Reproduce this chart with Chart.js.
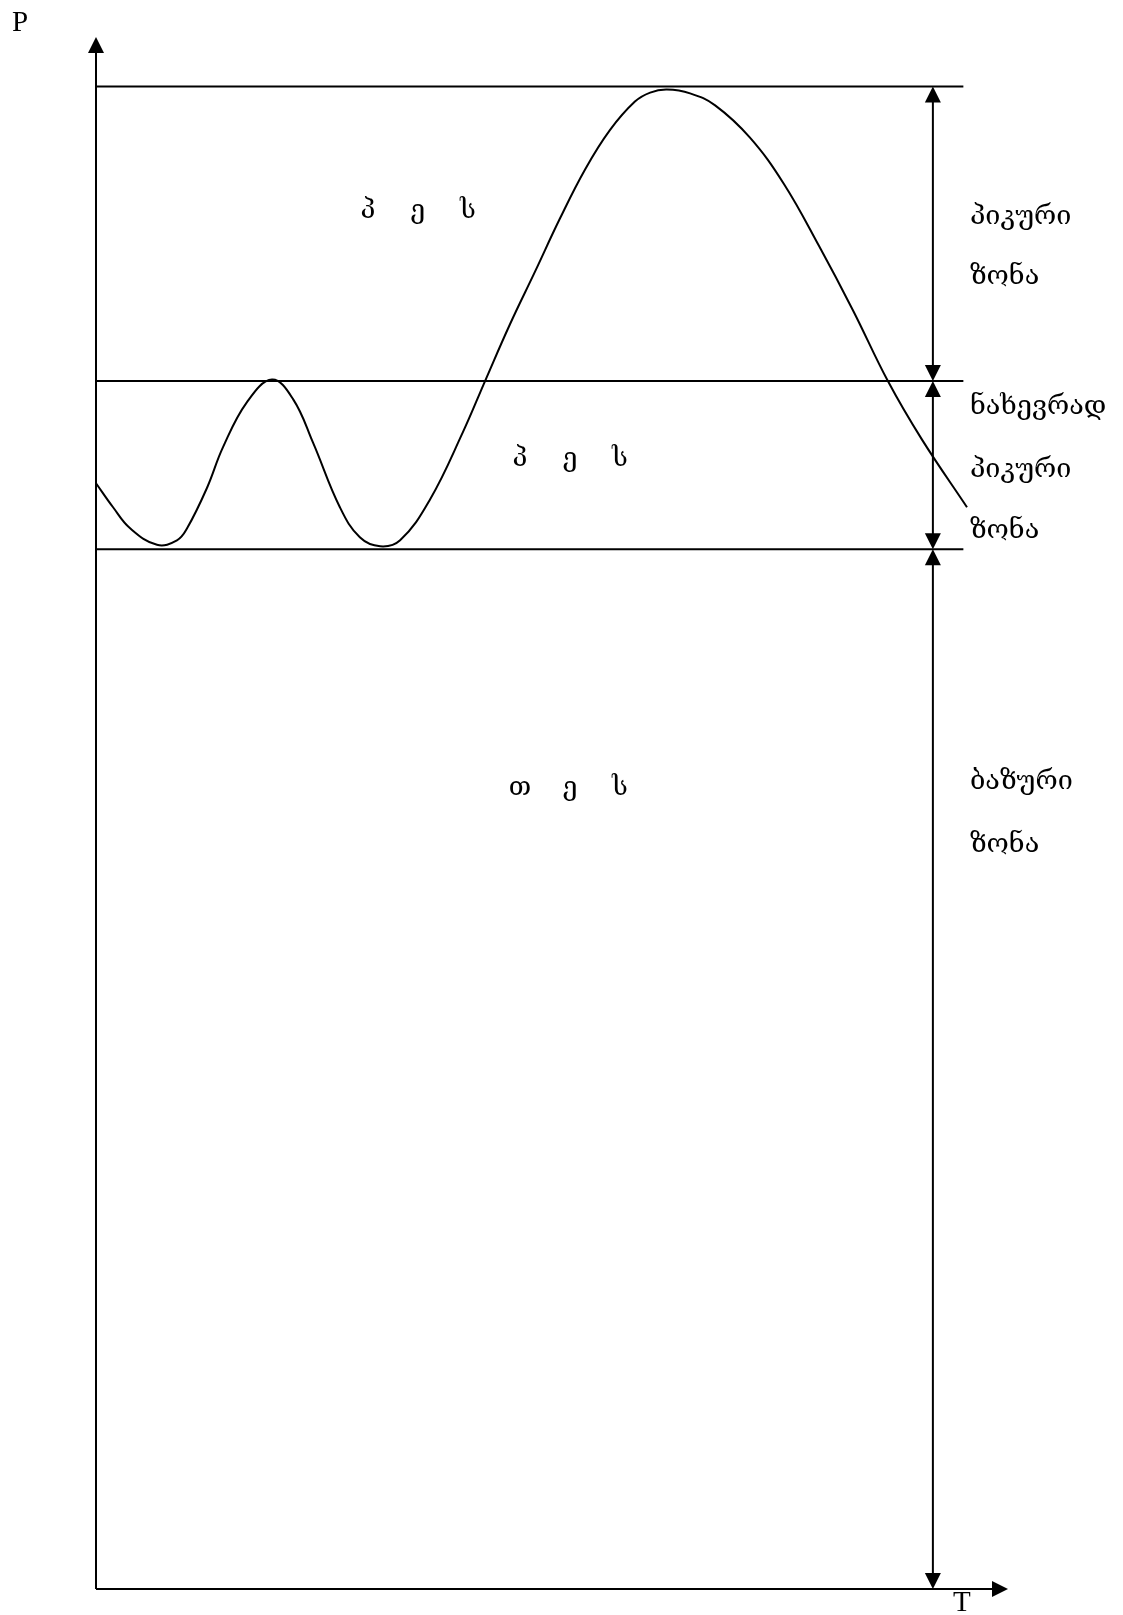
<!DOCTYPE html>
<html>
<head>
<meta charset="utf-8">
<script src="https://cdn.jsdelivr.net/npm/chart.js@4.4.0/dist/chart.umd.min.js"></script>
<style>
	body { margin: 0; background: #fff; }
	canvas { display: block; }
</style>
</head>
<body>
<canvas id="chart-load" width="1123" height="1615"></canvas>
<script>
// daily load curve, T in hours, P in % of peak
const hours = [0, 0.47, 0.94, 1.68, 2.23, 2.51, 3.06, 3.5, 4.16, 4.85, 5.43, 5.98, 6.72, 7.27, 7.83, 8.38, 9.2, 10.11, 10.72, 11.41, 12.1, 12.78, 13.48, 14.16, 14.85, 15.27, 15.73, 16.37, 17.06, 18.02, 18.96, 19.92, 20.86, 21.82, 22.76, 24];
const load = [73.6, 72.0, 70.6, 69.5, 69.8, 70.6, 73.3, 76.0, 79.0, 80.5, 79.2, 76.3, 72.0, 70.0, 69.4, 69.8, 72.5, 77.0, 80.4, 84.2, 87.7, 91.2, 94.5, 97.1, 99.0, 99.6, 99.8, 99.55, 98.75, 96.6, 93.5, 89.4, 85.1, 80.4, 76.5, 72.0];

// zone boundaries: peak, semi-peak / peak, base / semi-peak
const zoneLevels = [100, 80.4, 69.2];

// plant labels inside the zones
const plantLabels = ['პ ე ს', 'პ ე ს', 'თ ე ს'];
const plantPos = [[8.87, 91.7], [13.06, 75.2], [13.06, 53.3]];

// zone names on the right
const zoneLabels = ['პიკური', 'ზონა', 'ნახევრად', 'პიკური', 'ზონა', 'ბაზური', 'ზონა'];
const zoneLabelP = [91.35, 87.3, 78.7, 74.5, 70.4, 53.7, 49.5];

const axisLabels = ['P', 'T'];

const lineEnd = 23.9;
const zoneArrowT = 23.06;
const labelT = 24.08;

function arrowHead(ctx, x, y, dir) {
	const len = 16, half = 8;
	ctx.beginPath();
	ctx.moveTo(x, y);
	if (dir === 'up') { ctx.lineTo(x - half, y + len); ctx.lineTo(x + half, y + len); }
	if (dir === 'down') { ctx.lineTo(x - half, y - len); ctx.lineTo(x + half, y - len); }
	if (dir === 'right') { ctx.lineTo(x - len, y - half); ctx.lineTo(x - len, y + half); }
	ctx.closePath();
	ctx.fill();
}

const schemePlugin = {
	id: 'scheme',
	beforeDatasetsDraw(chart) {
		const ctx = chart.ctx;
		const xs = chart.scales.x, ys = chart.scales.y;
		const x0 = xs.getPixelForValue(0), y0 = ys.getPixelForValue(0);
		ctx.save();
		ctx.strokeStyle = '#000';
		ctx.fillStyle = '#000';
		ctx.lineWidth = 2;

		// axes
		const yTop = ys.getPixelForValue(ys.max);
		const xRight = x0 + 912;
		ctx.beginPath();
		ctx.moveTo(x0, y0); ctx.lineTo(x0, yTop + 10);
		ctx.moveTo(x0, y0); ctx.lineTo(xRight - 10, y0);
		ctx.stroke();
		arrowHead(ctx, x0, yTop, 'up');
		arrowHead(ctx, xRight, y0, 'right');

		// zone boundaries
		zoneLevels.forEach(p => {
			const y = ys.getPixelForValue(p);
			ctx.beginPath();
			ctx.moveTo(x0, y); ctx.lineTo(xs.getPixelForValue(lineEnd), y);
			ctx.stroke();
		});

		// zone dimension arrows
		const ax = xs.getPixelForValue(zoneArrowT);
		const bounds = zoneLevels.concat([0]);
		for (let i = 0; i < bounds.length - 1; i++) {
			const ya = ys.getPixelForValue(bounds[i]);
			const yb = ys.getPixelForValue(bounds[i + 1]);
			ctx.beginPath();
			ctx.moveTo(ax, ya + 10); ctx.lineTo(ax, yb - 10);
			ctx.stroke();
			arrowHead(ctx, ax, ya, 'up');
			arrowHead(ctx, ax, yb, 'down');
		}

		// texts
		ctx.textBaseline = 'middle';
		ctx.textAlign = 'center';
		ctx.font = '26px "DejaVu Serif"';
		plantLabels.forEach((txt, i) => {
			const cx = xs.getPixelForValue(plantPos[i][0]);
			const cy = ys.getPixelForValue(plantPos[i][1]);
			const chars = txt.split(' ');
			chars.forEach((c, j) => {
				ctx.fillText(c, cx + (j - (chars.length - 1) / 2) * 50, cy);
			});
		});

		ctx.textAlign = 'left';
		ctx.font = '27px "DejaVu Serif"';
		zoneLabels.forEach((txt, i) => {
			ctx.fillText(txt, xs.getPixelForValue(labelT), ys.getPixelForValue(zoneLabelP[i]));
		});

		ctx.textAlign = 'center';
		ctx.font = '29px "Liberation Serif"';
		ctx.fillText(axisLabels[0], xs.getPixelForValue(-2.09), ys.getPixelForValue(104.2));
		ctx.fillText(axisLabels[1], xs.getPixelForValue(23.86), ys.getPixelForValue(-0.93));
		ctx.restore();
	}
};

const data = {
	datasets: [
		{
			label: 'P',
			data: hours.map((t, i) => ({ x: t, y: load[i] })),
			borderColor: '#000',
			borderWidth: 2,
			pointRadius: 0,
			fill: false,
			tension: 0.4,
			clip: false
		}
	]
};

const config = {
	type: 'line',
	data: data,
	options: {
		responsive: false,
		animation: false,
		devicePixelRatio: 1,
		layout: {
			padding: { left: 96, right: 156, top: 37, bottom: 26 }
		},
		plugins: {
			legend: { display: false },
			tooltip: { enabled: false }
		},
		scales: {
			x: { type: 'linear', min: 0, max: 24, display: false },
			y: { type: 'linear', min: 0, max: 103.3, display: false }
		}
	},
	plugins: [schemePlugin]
};

document.addEventListener('DOMContentLoaded', () => {
	const ctx = document.getElementById('chart-load');
	const chartLoad = new Chart(ctx, config);
});
</script>
</body>
</html>
